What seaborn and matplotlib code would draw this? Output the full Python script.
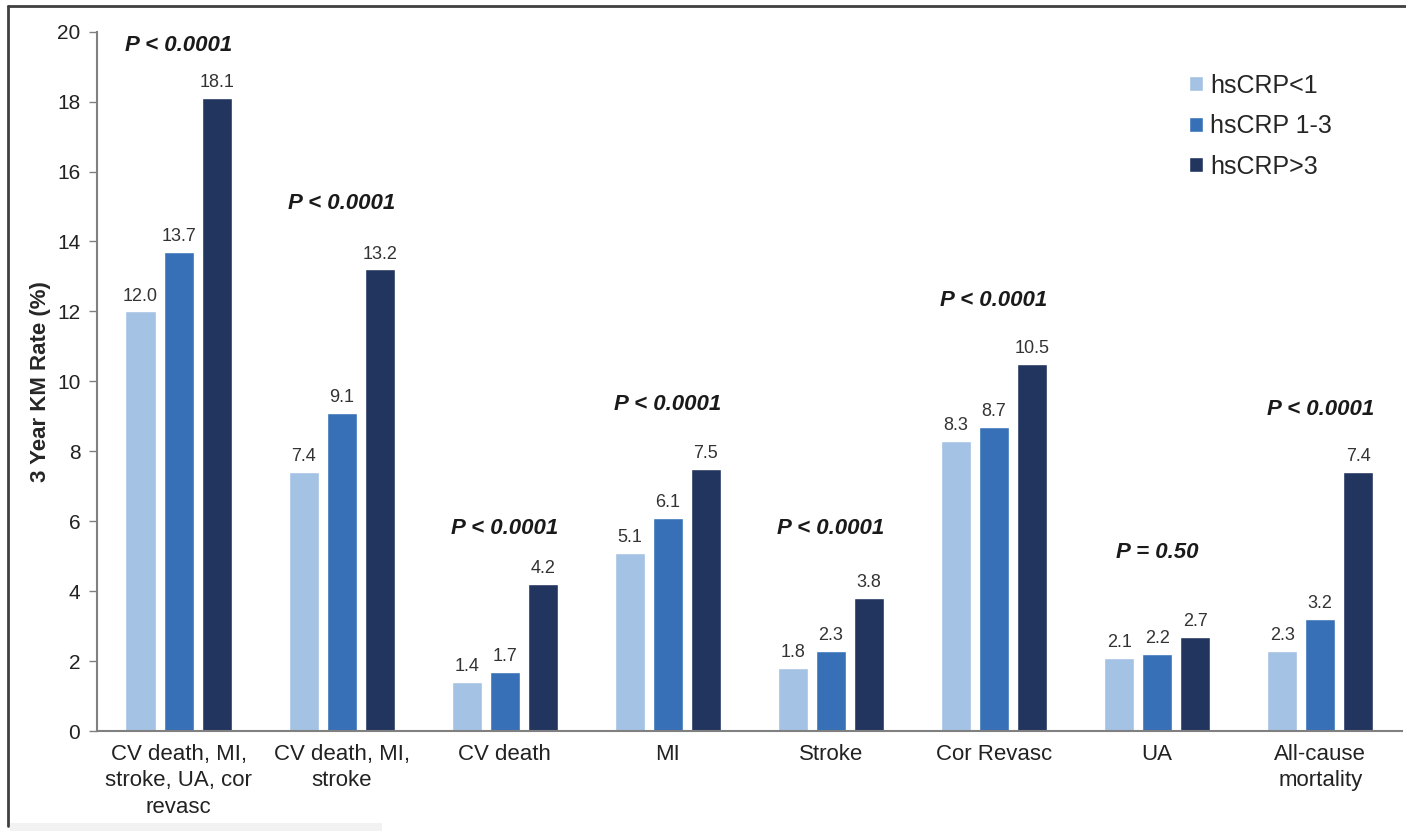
import numpy as np
import pandas as pd
import matplotlib
matplotlib.use('Agg')
import matplotlib.pyplot as plt
import seaborn as sns
from matplotlib.lines import Line2D
from matplotlib.patches import Rectangle

# Data
outcomes = ['CV death, MI,\nstroke, UA, cor\nrevasc', 'CV death, MI,\nstroke', 'CV death', 'MI',
            'Stroke', 'Cor Revasc', 'UA', 'All-cause\nmortality']
groups = ['hsCRP<1', 'hsCRP 1-3', 'hsCRP>3']
crp_low = [12.0, 7.4, 1.4, 5.1, 1.8, 8.3, 2.1, 2.3]
crp_mid = [13.7, 9.1, 1.7, 6.1, 2.3, 8.7, 2.2, 3.2]
crp_high = [18.1, 13.2, 4.2, 7.5, 3.8, 10.5, 2.7, 7.4]
p_values = ['P < 0.0001', 'P < 0.0001', 'P < 0.0001', 'P < 0.0001',
            'P < 0.0001', 'P < 0.0001', 'P = 0.50', 'P < 0.0001']
p_label_y = [19.6, 15.1, 5.8, 9.35, 5.8, 12.3, 5.1, 9.2]
colors = ['#a4c2e4', '#3870b8', '#22355f']

df = pd.DataFrame({
    'outcome': np.repeat(outcomes, 3),
    'group': groups * len(outcomes),
    'rate': np.column_stack([crp_low, crp_mid, crp_high]).ravel(),
})

sns.set_style('white')
plt.rcParams['font.family'] = ['Liberation Sans', 'DejaVu Sans']

fig = plt.figure(figsize=(14.06, 8.31), dpi=100)
ax = fig.add_axes([0.069, 0.12, 0.928, 0.842])

sns.barplot(data=df, x='outcome', y='rate', hue='group', order=outcomes, hue_order=groups,
            palette=colors, width=0.7, gap=0.21, saturation=1, ax=ax)

# value labels on bars
for cont in ax.containers:
    ax.bar_label(cont, fmt='%.1f', padding=5, fontsize=13, color='#333333')

# p-values above each group
for i, (txt, yy) in enumerate(zip(p_values, p_label_y)):
    ax.text(i, yy, txt, ha='center', va='center', fontsize=16, fontweight='bold',
            fontstyle='italic', color='#1a1a1a')

ax.set_ylim(0, 20)
ax.set_xlim(-0.5, len(outcomes) - 0.5)
ax.set_yticks(range(0, 21, 2))
ax.set_xlabel('')
ax.set_ylabel('3 Year KM Rate (%)', fontsize=16, fontweight='bold', labelpad=4)
ax.tick_params(axis='y', labelsize=15, length=6, width=1, color='#808080', left=True, pad=6,
               labelcolor='#222222')
ax.tick_params(axis='x', labelsize=16, length=0, pad=9, labelcolor='#222222')
for lab in ax.get_xticklabels():
    lab.set_linespacing(1.35)

sns.despine(ax=ax)
for s in ['left', 'bottom']:
    ax.spines[s].set_color('#808080')
    ax.spines[s].set_linewidth(1.5)

leg = ax.legend(loc='upper left', bbox_to_anchor=(0.830, 0.9386), bbox_transform=fig.transFigure,
                frameon=False, fontsize=18, handlelength=0.56, handleheight=0.56,
                handletextpad=0.28, labelspacing=0.66)

# picture frame (top and left edges) and grey strip at the bottom
fig.add_artist(Line2D([0.006, 1.0], [0.993, 0.993], color='#404040', lw=2))
fig.add_artist(Line2D([0.006, 0.006], [0.006, 0.993], color='#404040', lw=2))
fig.add_artist(Rectangle((0.007, 0.0), 0.265, 0.010, transform=fig.transFigure,
                         facecolor='#f2f2f2', edgecolor='none'))

fig.savefig('out.png', dpi=100)
